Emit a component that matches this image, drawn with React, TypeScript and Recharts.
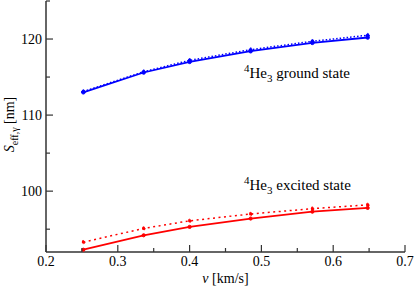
import React from 'react';
import { LineChart, Line, XAxis, YAxis, ReferenceDot, Label } from 'recharts';

// velocities [km/s] and effective slit widths [nm]
const velocity = [0.252, 0.336, 0.4, 0.485, 0.571, 0.648];
const groundSolid = [113.0, 115.6, 117.0, 118.4, 119.5, 120.2];
const groundDotted = [113.1, 115.7, 117.2, 118.6, 119.7, 120.5];
const excitedSolid = [92.3, 94.2, 95.3, 96.4, 97.3, 97.8];
const excitedDotted = [93.3, 95.1, 96.1, 97.0, 97.7, 98.2];

const xTicks = [0.2, 0.25, 0.3, 0.35, 0.4, 0.45, 0.5, 0.55, 0.6, 0.65, 0.7];
const yTicks = [95, 100, 105, 110, 115, 120, 125];

const data = velocity.map((v, i) => ({
  v,
  gs: groundSolid[i],
  gd: groundDotted[i],
  es: excitedSolid[i],
  ed: excitedDotted[i],
}));

const TXT = { fontFamily: "'Liberation Serif', 'Times New Roman', serif", fontSize: 14, fill: '#000' };
const AXIS = '#333';
const BLUE = '#0000ff';
const RED = '#ff0000';

const isMajorX = (v: number) => Math.abs(v * 10 - Math.round(v * 10)) < 1e-6;
const isMajorY = (v: number) => v % 10 === 0;

const BottomTick = ({ x, y, payload }: any) => {
  const major = isMajorX(payload.value);
  return (
    <g>
      <line x1={x} y1={y} x2={x} y2={y - (major ? 7 : 4)} stroke={AXIS} strokeWidth={1.2} />
      {major && (
        <text x={x} y={y + 13.5} textAnchor="middle" style={TXT}>
          {payload.value.toFixed(1)}
        </text>
      )}
    </g>
  );
};

const TopTick = ({ x, y, payload }: any) => (
  <line x1={x} y1={y} x2={x} y2={y + (isMajorX(payload.value) ? 7 : 4)} stroke={AXIS} strokeWidth={1.2} />
);

const LeftTick = ({ x, y, payload }: any) => {
  const major = isMajorY(payload.value);
  return (
    <g>
      <line x1={x} y1={y} x2={x + (major ? 7 : 4)} y2={y} stroke={AXIS} strokeWidth={1.2} />
      {major && (
        <text x={x - 4} y={y + 4.7} textAnchor="end" style={TXT}>
          {payload.value}
        </text>
      )}
    </g>
  );
};

const RightTick = ({ x, y, payload }: any) => (
  <line x1={x} y1={y} x2={x - (isMajorY(payload.value) ? 7 : 4)} y2={y} stroke={AXIS} strokeWidth={1.2} />
);

// "4He3 ... state" annotation, anchored at the data point given to ReferenceDot
const StateText = ({ cx, cy, text }: any) => (
  <text x={cx} y={cy} style={{ ...TXT, fontSize: 15 }}>
    <tspan fontSize={11} dy={-6}>4</tspan>
    <tspan dy={6}>He</tspan>
    <tspan fontSize={11} dy={4}>3</tspan>
    <tspan dy={-4}>{' ' + text}</tspan>
  </text>
);

const XTitle = ({ viewBox }: any) => (
  <text x={viewBox.x + viewBox.width / 2} y={283} textAnchor="middle" style={TXT}>
    <tspan fontStyle="italic">v</tspan>
    <tspan> [km/s]</tspan>
  </text>
);

const YTitle = ({ viewBox }: any) => (
  <text
    transform={`translate(13.5, ${viewBox.y + viewBox.height / 2 - 2}) rotate(-90)`}
    textAnchor="middle"
    style={TXT}
  >
    <tspan fontStyle="italic">S</tspan>
    <tspan fontSize={10} dy={4}>eff,γ</tspan>
    <tspan dy={-4}> [nm]</tspan>
  </text>
);

const App = () => {
  return (
    <div style={{ position: 'absolute', left: 0, top: 0, width: 415, height: 288, background: '#fff' }}>
      <LineChart width={415} height={288} data={data} margin={{ top: 1, right: 10, bottom: 0, left: 0 }}>
        <XAxis
          dataKey="v"
          type="number"
          domain={[0.2, 0.7]}
          allowDataOverflow
          ticks={xTicks}
          interval={0}
          height={36}
          tickSize={0}
          tickMargin={0}
          tickLine={false}
          tick={<BottomTick />}
          axisLine={{ stroke: AXIS, strokeWidth: 1.5 }}
        >
          <Label content={<XTitle />} />
        </XAxis>
        <XAxis
          xAxisId="top"
          orientation="top"
          dataKey="v"
          type="number"
          domain={[0.2, 0.7]}
          allowDataOverflow
          ticks={xTicks}
          interval={0}
          height={0}
          tickSize={0}
          tickMargin={0}
          tickLine={false}
          tick={<TopTick />}
          axisLine={{ stroke: AXIS, strokeWidth: 1.5 }}
        />
        <YAxis
          type="number"
          domain={[92, 125]}
          allowDataOverflow
          ticks={yTicks}
          interval={0}
          width={46}
          tickSize={0}
          tickMargin={0}
          tickLine={false}
          tick={<LeftTick />}
          axisLine={{ stroke: AXIS, strokeWidth: 1.5 }}
        >
          <Label content={<YTitle />} />
        </YAxis>
        <YAxis
          yAxisId="right"
          orientation="right"
          type="number"
          domain={[92, 125]}
          allowDataOverflow
          ticks={yTicks}
          interval={0}
          width={0}
          tickSize={0}
          tickMargin={0}
          tickLine={false}
          tick={<RightTick />}
          axisLine={{ stroke: AXIS, strokeWidth: 1.5 }}
        />
        <Line type="linear" dataKey="gd" stroke={BLUE} strokeWidth={1.5} strokeDasharray="1.5 2"
          dot={{ r: 1.8, fill: BLUE, stroke: BLUE, strokeWidth: 1 }} isAnimationActive={false} />
        <Line type="linear" dataKey="gs" stroke={BLUE} strokeWidth={1.8}
          dot={{ r: 1.8, fill: BLUE, stroke: BLUE, strokeWidth: 1 }} isAnimationActive={false} />
        <Line type="linear" dataKey="ed" stroke={RED} strokeWidth={1.5} strokeDasharray="2 3.5"
          dot={{ r: 1.6, fill: RED, stroke: RED, strokeWidth: 1 }} isAnimationActive={false} />
        <Line type="linear" dataKey="es" stroke={RED} strokeWidth={1.8}
          dot={{ r: 1.6, fill: RED, stroke: RED, strokeWidth: 1 }} isAnimationActive={false} />
        <ReferenceDot x={0.4758} y={114.88} r={0} isFront shape={(p: any) => <StateText {...p} text="ground state" />} />
        <ReferenceDot x={0.4758} y={100.15} r={0} isFront shape={(p: any) => <StateText {...p} text="excited state" />} />
      </LineChart>
    </div>
  );
};

export default App;
